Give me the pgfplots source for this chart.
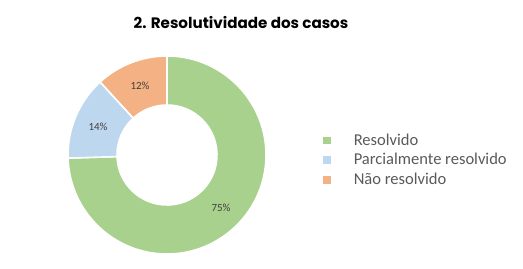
\documentclass[border=0pt]{standalone}
\usepackage{pgfplots}
\pgfplotsset{compat=1.18}
\usepackage{fontspec}
\setmainfont{Carlito}
\newfontfamily\titlefont{Poppins}
\definecolor{cgreen}{HTML}{A9D18E}
\definecolor{cblue}{HTML}{BDD7EE}
\definecolor{corange}{HTML}{F4B183}
\definecolor{ctext}{HTML}{595959}
\definecolor{clabel}{HTML}{404040}
% shares (percent)
\def\vA{74.5}\def\vB{13.7}\def\vC{11.8}
\pgfmathsetmacro{\aA}{90}
\pgfmathsetmacro{\aB}{\aA-\vA*3.6}
\pgfmathsetmacro{\aC}{\aB-\vB*3.6}
\pgfmathsetmacro{\aD}{\aC-\vC*3.6}
\newcommand{\donutwedge}[3]{%
  \fill[fill=#1, draw=white, line width=1.6bp]
    ([shift={(#2:99bp)}]axis cs:167,113) arc[start angle=#2, end angle=#3, radius=99bp]
    -- ([shift={(#3:50bp)}]axis cs:167,113) arc[start angle=#3, end angle=#2, radius=50bp] -- cycle;}
\begin{document}
\begin{tikzpicture}
\begin{axis}[
  x=1bp, y=1bp, xmin=0, xmax=523, ymin=0, ymax=268,
  hide axis, clip=false,
  legend style={draw=none, fill=none, at={(axis cs:320,138.5)}, anchor=north west,
    font=\fontsize{16.6}{19}\selectfont, text=ctext,
    row sep=2.8bp, cells={anchor=west}},
  legend cell align=left,
]
\path (axis cs:0,0) rectangle (axis cs:523,268);
\addlegendimage{only marks, mark=square*, mark size=3.3bp, color=cgreen}
\addlegendentry{\hspace{22bp}Resolvido}
\addlegendimage{only marks, mark=square*, mark size=3.3bp, color=cblue}
\addlegendentry{\hspace{22bp}Parcialmente resolvido}
\addlegendimage{only marks, mark=square*, mark size=3.3bp, color=corange}
\addlegendentry{\hspace{22bp}Não resolvido}
\donutwedge{cgreen}{\aA}{\aB}
\donutwedge{cblue}{\aB}{\aC}
\donutwedge{corange}{\aC}{\aD}
\node[font=\fontsize{11}{12}\selectfont, text=clabel] at (axis cs:221,60) {75\%};
\node[font=\fontsize{11}{12}\selectfont, text=clabel] at (axis cs:98,141) {14\%};
\node[font=\fontsize{11}{12}\selectfont, text=clabel] at (axis cs:140,182) {12\%};
\node[font=\titlefont\bfseries\fontsize{15.2}{17}\selectfont, text=black] at (axis cs:241,245.5) {2. Resolutividade dos casos};
\end{axis}
\end{tikzpicture}
\end{document}
